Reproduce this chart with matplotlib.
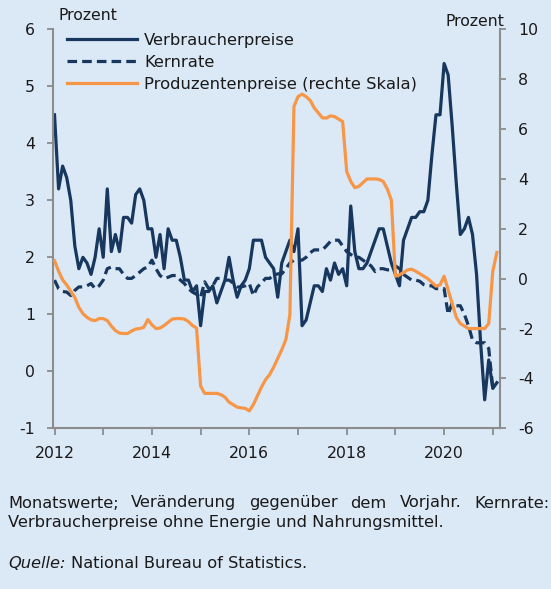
import matplotlib
matplotlib.use('Agg')
import matplotlib.pyplot as plt
import numpy as np

# ---------------- data (monthly, Jan 2012 onwards) ----------------
start_year = 2012
cpi = [4.5, 3.2, 3.6, 3.4, 3.0, 2.2, 1.8, 2.0, 1.9, 1.7, 2.0, 2.5,
       2.0, 3.2, 2.1, 2.4, 2.1, 2.7, 2.7, 2.6, 3.1, 3.2, 3.0, 2.5,
       2.5, 2.0, 2.4, 1.8, 2.5, 2.3, 2.3, 2.0, 1.6, 1.6, 1.4, 1.5,
       0.8, 1.4, 1.4, 1.5, 1.2, 1.4, 1.6, 2.0, 1.6, 1.3, 1.5, 1.6,
       1.8, 2.3, 2.3, 2.3, 2.0, 1.9, 1.8, 1.3, 1.9, 2.1, 2.3, 2.1,
       2.5, 0.8, 0.9, 1.2, 1.5, 1.5, 1.4, 1.8, 1.6, 1.9, 1.7, 1.8,
       1.5, 2.9, 2.1, 1.8, 1.8, 1.9, 2.1, 2.3, 2.5, 2.5, 2.2, 1.9,
       1.7, 1.5, 2.3, 2.5, 2.7, 2.7, 2.8, 2.8, 3.0, 3.8, 4.5, 4.5,
       5.4, 5.2, 4.3, 3.3, 2.4, 2.5, 2.7, 2.4, 1.7, 0.5, -0.5, 0.2,
       -0.3, -0.2]

core = [1.6, 1.45, 1.4, 1.39, 1.33, 1.42, 1.48, 1.48, 1.5, 1.54, 1.45, 1.5,
        1.6, 1.8, 1.83, 1.8, 1.8, 1.7, 1.63, 1.63, 1.68, 1.74, 1.8, 1.83,
        1.95, 1.8, 1.68, 1.63, 1.65, 1.68, 1.68, 1.6, 1.54, 1.45, 1.39, 1.35,
        1.3, 1.57, 1.45, 1.5, 1.63, 1.63, 1.6, 1.6, 1.55, 1.48, 1.48, 1.5,
        1.54, 1.33, 1.48, 1.55, 1.63, 1.63, 1.68, 1.71, 1.71, 1.8, 1.9, 1.95,
        1.95, 1.95, 2.0, 2.08, 2.13, 2.13, 2.13, 2.2, 2.28, 2.3, 2.3, 2.2,
        2.1, 2.05, 2.0, 2.0, 1.95, 1.9, 1.85, 1.75, 1.8, 1.8, 1.78, 1.78,
        1.85, 1.8, 1.7, 1.65, 1.6, 1.6, 1.58, 1.52, 1.5, 1.5, 1.45, 1.45,
        1.45, 1.0, 1.2, 1.15, 1.15, 1.0, 0.8, 0.55, 0.5, 0.5, 0.5, 0.4,
        -0.3]

ppi = [0.72, 0.3, -0.05, -0.25, -0.5, -0.75, -1.15, -1.4, -1.55, -1.65, -1.68, -1.6,
       -1.6, -1.68, -1.9, -2.08, -2.18, -2.2, -2.2, -2.1, -2.02, -2.0, -1.95, -1.64,
       -1.85, -2.0, -1.98, -1.88, -1.75, -1.62, -1.6, -1.6, -1.62, -1.72, -1.88, -1.98,
       -4.3, -4.6, -4.6, -4.6, -4.6, -4.65, -4.75, -4.95, -5.05, -5.15, -5.18, -5.2,
       -5.3, -5.05, -4.7, -4.35, -4.05, -3.85, -3.55, -3.2, -2.85, -2.45, -1.45, 6.9,
       7.3, 7.4, 7.3, 7.15, 6.85, 6.65, 6.45, 6.44, 6.53, 6.5, 6.4, 6.3,
       4.3, 3.9, 3.65, 3.7, 3.85, 4.0, 4.0, 4.0, 3.98, 3.9, 3.6, 3.15,
       0.1, 0.15, 0.25, 0.35, 0.38, 0.3, 0.2, 0.1, 0.0, -0.15, -0.3, -0.25,
       0.1, -0.45, -1.0, -1.55, -1.8, -1.9, -2.0, -2.0, -2.0, -2.0, -2.0, -1.8,
       0.3, 1.05]

x_ticks = list(range(2012, 2022))
x_labels = ['2012', '', '2014', '', '2016', '', '2018', '', '2020', '']
left_ticks = [-1, 0, 1, 2, 3, 4, 5, 6]
right_ticks = [-6, -4, -2, 0, 2, 4, 6, 8, 10]

label_cpi = 'Verbraucherpreise'
label_core = 'Kernrate'
label_ppi = 'Produzentenpreise (rechte Skala)'
unit = 'Prozent'
note1 = 'Monatswerte; Veränderung gegenüber dem Vorjahr. Kernrate:'
note2 = 'Verbraucherpreise ohne Energie und Nahrungsmittel.'
src_a = 'Quelle:'
src_b = 'National Bureau of Statistics.'

# ---------------- style ----------------
plt.rcParams['font.family'] = ['DejaVu Sans']
plt.rcParams['axes.unicode_minus'] = False
bg = '#dbe8f6'
navy = '#17375e'
orange = '#f79646'
gray = '#8c8c8c'
txt = '#1a1a1a'
W, H = 551, 589
fs_tick = 11.3
fs_leg = 11.8
fs_note = 11.7

fig = plt.figure(figsize=(W / 100, H / 100), dpi=100, facecolor=bg)
L, R, T, B = 53.3, 500.0, 29.3, 428.3
ax = fig.add_axes([L / W, 1 - B / H, (R - L) / W, (B - T) / H])
ax.set_facecolor(bg)

x = start_year + np.arange(len(cpi)) / 12.0
xc = start_year + np.arange(len(core)) / 12.0

l1, = ax.plot(x, cpi, color=navy, lw=2.3, solid_joinstyle='round', label=label_cpi)
l2, = ax.plot(xc, core, color=navy, lw=2.3, ls=(0, (3.0, 1.6)), label=label_core)
ax.set_xlim(2011.975, 2021.148)
ax.set_ylim(-1, 6)
ax.set_yticks(left_ticks)
ax.set_xticks(x_ticks)
ax.set_xticklabels(x_labels)

ax2 = ax.twinx()
l3, = ax2.plot(x, ppi, color=orange, lw=2.3, solid_joinstyle='round', label=label_ppi)
ax2.set_ylim(-6, 10)
ax2.set_yticks(right_ticks)
ax2.set_xlim(ax.get_xlim())

for a in (ax, ax2):
    a.spines['top'].set_visible(False)
    for s in a.spines.values():
        s.set_color(gray)
        s.set_linewidth(1.5)
ax2.spines['left'].set_visible(False)
ax2.spines['bottom'].set_visible(False)
ax.spines['right'].set_visible(False)

ax.tick_params(axis='y', direction='out', length=4.5, width=1.3, color=gray,
               pad=8.5, labelsize=fs_tick, labelcolor=txt)
ax.tick_params(axis='x', direction='out', length=5, width=1.3, color=gray,
               pad=7.5, labelsize=fs_tick, labelcolor=txt)
ax2.tick_params(axis='y', direction='out', length=4.5, width=1.3, color=gray,
                pad=8.5, labelsize=fs_tick, labelcolor=txt)

leg = ax2.legend(handles=[l1, l2, l3], loc='upper left',
                 bbox_to_anchor=(66.5 / W, 1 - 32.5 / H), bbox_transform=fig.transFigure,
                 frameon=False, fontsize=fs_leg, handlelength=4.3, handletextpad=0.45,
                 labelspacing=0.43, borderpad=0, borderaxespad=0)
for t in leg.get_texts():
    t.set_color(txt)

fig.text(58 / W, 1 - 15.7 / H, unit, ha='left', va='center', fontsize=fs_tick, color=txt)
fig.text(504.5 / W, 1 - 21.7 / H, unit, ha='right', va='center', fontsize=fs_tick, color=txt)

# ---------------- footnotes ----------------
fig.canvas.draw()
r = fig.canvas.get_renderer()
words = note1.split(' ')
wt = [fig.text(0, 0, w, fontsize=fs_note, color=txt, va='center') for w in words]
widths = [t.get_window_extent(r).width for t in wt]
x0, x1 = 8.0, 549.0
gap = (x1 - x0 - sum(widths)) / (len(words) - 1)
pos = x0
for t, w in zip(wt, widths):
    t.set_position((pos / W, 1 - 503 / H))
    pos += w + gap

fig.text(x0 / W, 1 - 522.5 / H, note2, fontsize=fs_note, color=txt, va='center')
qa = fig.text(x0 / W, 1 - 563 / H, src_a, fontsize=fs_note, color=txt, va='center', style='italic')
wa = qa.get_window_extent(r).width
sp = fig.text(0, 0, 'a a', fontsize=fs_note)
sp2 = fig.text(0, 0, 'aa', fontsize=fs_note)
space = sp.get_window_extent(r).width - sp2.get_window_extent(r).width
sp.remove(); sp2.remove()
fig.text((x0 + wa + space) / W, 1 - 563 / H, src_b, fontsize=fs_note, color=txt, va='center')

fig.savefig('out.png', dpi=100, facecolor=bg)
